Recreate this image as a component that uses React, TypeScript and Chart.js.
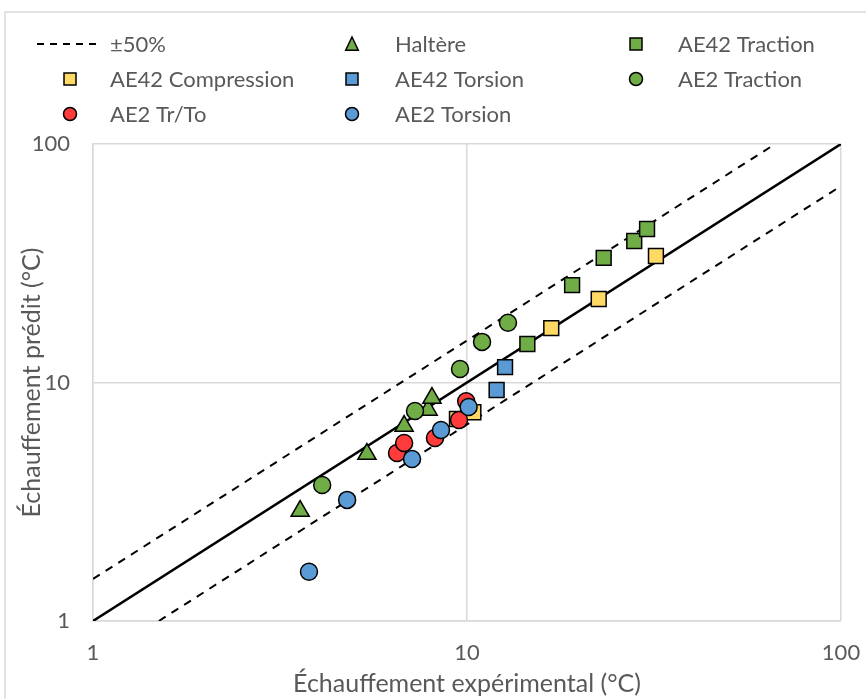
import { useEffect, useRef } from "react";
import { Chart, registerables } from "chart.js";

Chart.register(...registerables);

const FONT = "Lato, 'Open Sans', sans-serif";
const TEXT = "#595959";
const GRID = "#d9d9d9";

const GREEN = "#70AD47";
const YELLOW = "#FFD966";
const BLUE = "#5B9BD5";
const RED = "#FF3B3B";

// Axis tick values
const tickValues = [1, 10, 100];

// Reference lines (y = x and ±50%)
const refX = [1, 100];
const refY = [1, 100];
const upperX = [1, 66.67];
const upperY = [1.5, 100];
const lowerX = [1.5, 100];
const lowerY = [1, 66.67];

// Series data (experimental, predicted)
const halteresX = [3.58, 5.4, 6.79, 7.87, 8.06];
const halteresY = [2.89, 5.01, 6.57, 7.67, 8.61];

const ae42TractionX = [14.5, 19.1, 23.2, 28.0, 30.3];
const ae42TractionY = [14.5, 25.6, 33.3, 39.2, 44.0];

const ae42CompressionX = [9.4, 10.4, 16.8, 22.5, 32.0];
const ae42CompressionY = [7.03, 7.5, 16.9, 22.4, 33.9];

const ae42TorsionX = [12.0, 12.64];
const ae42TorsionY = [9.3, 11.6];

const ae2TractionX = [4.1, 7.26, 9.58, 10.97, 12.87];
const ae2TractionY = [3.72, 7.6, 11.4, 14.8, 17.8];

const ae2TrToX = [6.5, 6.79, 8.21, 9.52, 9.95];
const ae2TrToY = [5.06, 5.58, 5.85, 6.96, 8.35];

const ae2TorsionX = [3.78, 4.78, 7.13, 8.52, 10.1];
const ae2TorsionY = [1.61, 3.22, 4.78, 6.32, 7.89];

const toPts = (xs: number[], ys: number[]) => xs.map((x, i) => ({ x, y: ys[i] }));

type Series = { label: string; xs: number[]; ys: number[]; color: string; shape: "triangle" | "rect" | "circle" };

const series: Series[] = [
  { label: "Haltère", xs: halteresX, ys: halteresY, color: GREEN, shape: "triangle" },
  { label: "AE42 Traction", xs: ae42TractionX, ys: ae42TractionY, color: GREEN, shape: "rect" },
  { label: "AE42 Compression", xs: ae42CompressionX, ys: ae42CompressionY, color: YELLOW, shape: "rect" },
  { label: "AE42 Torsion", xs: ae42TorsionX, ys: ae42TorsionY, color: BLUE, shape: "rect" },
  { label: "AE2 Traction", xs: ae2TractionX, ys: ae2TractionY, color: GREEN, shape: "circle" },
  { label: "AE2 Tr/To", xs: ae2TrToX, ys: ae2TrToY, color: RED, shape: "circle" },
  { label: "AE2 Torsion", xs: ae2TorsionX, ys: ae2TorsionY, color: BLUE, shape: "circle" },
];

const markerRadius = { triangle: 10.5, rect: 10.5, circle: 8.5 };

function drawMarker(ctx: CanvasRenderingContext2D, shape: string, x: number, y: number, s: number, fill: string) {
  ctx.save();
  ctx.fillStyle = fill;
  ctx.strokeStyle = "#000";
  ctx.lineWidth = 1.5;
  ctx.beginPath();
  if (shape === "circle") {
    ctx.arc(x, y, s, 0, Math.PI * 2);
  } else if (shape === "rect") {
    ctx.rect(x - s, y - s, 2 * s, 2 * s);
  } else {
    const w = s * 0.9;
    ctx.moveTo(x, y - s);
    ctx.lineTo(x + w, y + s * 0.9);
    ctx.lineTo(x - w, y + s * 0.9);
    ctx.closePath();
  }
  ctx.fill();
  ctx.stroke();
  ctx.restore();
}

const legendPlugin = {
  id: "customLegend",
  afterDraw(chart: any) {
    const ctx: CanvasRenderingContext2D = chart.ctx;
    ctx.save();
    // outer frame
    ctx.strokeStyle = GRID;
    ctx.lineWidth = 1.5;
    ctx.strokeRect(5, 12, 2000, 2000);

    const colMarker = [70, 352, 636];
    const colText = [110, 395, 678];
    const rows = [44, 79, 114];
    ctx.font = `22px ${FONT}`;
    ctx.fillStyle = TEXT;
    ctx.textBaseline = "middle";
    ctx.textAlign = "left";
    const items: any[] = [{ label: "±50%", dash: true }, ...series];
    items.forEach((it, i) => {
      const r = Math.floor(i / 3);
      const c = i % 3;
      const y = rows[r];
      if (it.dash) {
        ctx.save();
        ctx.strokeStyle = "#000";
        ctx.lineWidth = 2;
        ctx.setLineDash([7, 6]);
        ctx.beginPath();
        ctx.moveTo(37, y);
        ctx.lineTo(101, y);
        ctx.stroke();
        ctx.restore();
      } else {
        const s = it.shape === "circle" ? 6.5 : it.shape === "rect" ? 6 : 7;
        drawMarker(ctx, it.shape, colMarker[c], y, s, it.color);
      }
      ctx.fillStyle = TEXT;
      ctx.fillText(it.label, colText[c], y + 1);
    });
    ctx.restore();
  },
};

export default function App() {
  const ref = useRef<HTMLCanvasElement>(null);
  useEffect(() => {
    document.body.style.margin = "0";
    const canvas = ref.current!;
    const N = series.length;
    const datasets: any[] = [
      {
        type: "line",
        label: "y=x",
        data: toPts(refX, refY),
        borderColor: "#000",
        borderWidth: 2.5,
        pointRadius: 0,
        showLine: true,
        order: N + 3,
      },
      {
        type: "line",
        label: "+50%",
        data: toPts(upperX, upperY),
        borderColor: "#000",
        borderWidth: 2,
        borderDash: [8, 7],
        pointRadius: 0,
        showLine: true,
        order: N + 2,
      },
      {
        type: "line",
        label: "-50%",
        data: toPts(lowerX, lowerY),
        borderColor: "#000",
        borderWidth: 2,
        borderDash: [8, 7],
        pointRadius: 0,
        showLine: true,
        order: N + 1,
      },
      ...series.map((s, i) => ({
        type: "scatter",
        label: s.label,
        data: toPts(s.xs, s.ys),
        backgroundColor: s.color,
        borderColor: "#000",
        borderWidth: 1.5,
        pointStyle: s.shape,
        pointRadius: markerRadius[s.shape],
        order: N - i,
      })),
    ];

    const tickFont = { family: FONT, size: 22 };
    const titleFont = { family: FONT, size: 25 };
    const chart = new Chart(canvas, {
      type: "scatter",
      data: { datasets },
      options: {
        animation: false,
        responsive: false,
        layout: { padding: { top: 144, right: 25, left: 0, bottom: 0 } },
        plugins: { legend: { display: false }, tooltip: { enabled: false } },
        scales: {
          x: {
            type: "logarithmic",
            min: 1,
            max: 100,
            afterBuildTicks: (sc: any) => {
              sc.ticks = tickValues.map((v) => ({ value: v }));
            },
            afterFit: (sc: any) => {
              sc.height = 78;
              sc.paddingLeft = 0;
              sc.paddingRight = 0;
            },
            ticks: {
              color: TEXT,
              font: tickFont,
              padding: 19,
              maxRotation: 0,
              autoSkip: false,
              callback: (v: any) => String(v),
            },
            grid: { color: GRID, lineWidth: 1.5, drawTicks: false },
            border: { color: GRID, width: 1.5 },
            title: {
              display: true,
              text: "Échauffement expérimental (°C)",
              color: TEXT,
              font: titleFont,
              padding: { top: 0, bottom: 0 },
            },
          },
          y: {
            type: "logarithmic",
            min: 1,
            max: 100,
            afterBuildTicks: (sc: any) => {
              sc.ticks = tickValues.map((v) => ({ value: v }));
            },
            afterFit: (sc: any) => {
              sc.width = 93;
              sc.paddingTop = 0;
              sc.paddingBottom = 0;
            },
            ticks: {
              color: TEXT,
              font: tickFont,
              padding: 23,
              autoSkip: false,
              callback: (v: any) => String(v),
            },
            grid: { color: GRID, lineWidth: 1.5, drawTicks: false },
            border: { color: GRID, width: 1.5 },
            title: {
              display: true,
              text: "Échauffement prédit (°C)",
              color: TEXT,
              font: titleFont,
              padding: { top: 17, bottom: 0 },
            },
          },
        },
      } as any,
      plugins: [legendPlugin],
    });
    return () => chart.destroy();
  }, []);
  return <canvas ref={ref} width={866} height={699} style={{ display: "block" }} />;
}
